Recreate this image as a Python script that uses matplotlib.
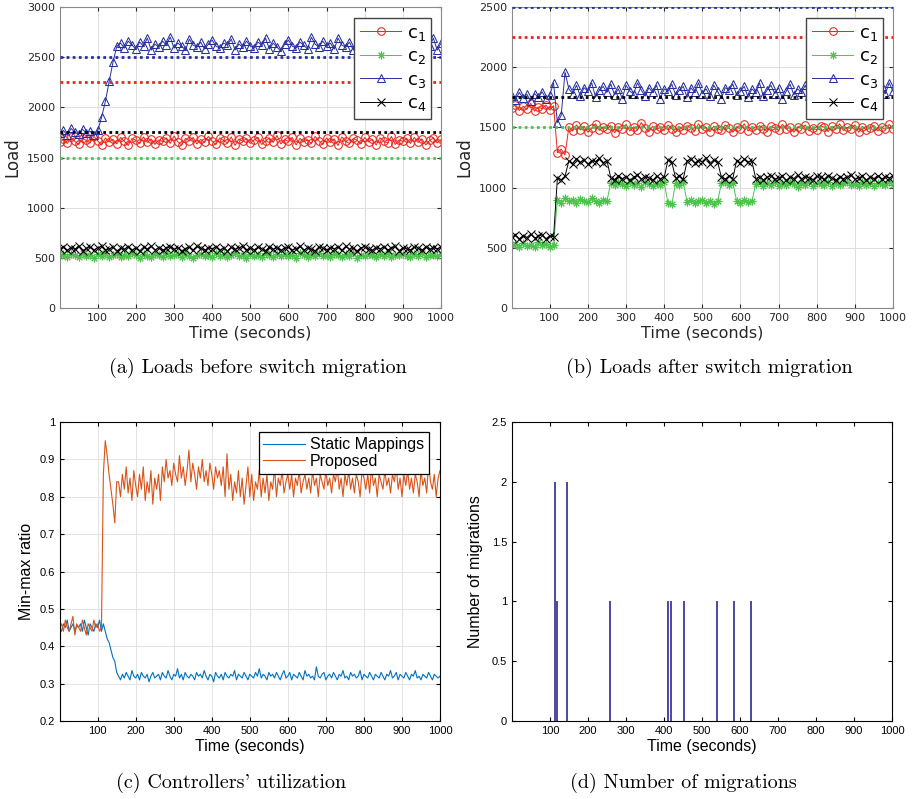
import numpy as np
import matplotlib
matplotlib.use('Agg')
import matplotlib.pyplot as plt

# time grid (seconds) for the load panels, one sample every 10 s
t = np.arange(0, 1001, 10)
# finer grid for the utilization panel, one sample every 5 s
t_c = np.arange(0, 1001, 5)

# capacity lines
capacity = {'c1': 2250, 'c2': 1500, 'c3': 2500, 'c4': 1750}

# (a) loads before switch migration
a_c1 = [1650, 1680, 1640, 1700, 1660, 1630, 1690, 1670, 1645, 1710,
        1665, 1625, 1695, 1655, 1680, 1635, 1700, 1660, 1620, 1690,
        1670, 1640, 1705, 1650, 1685, 1630, 1675, 1660, 1695, 1640,
        1715, 1655, 1625, 1690, 1665, 1700, 1635, 1680, 1650, 1710,
        1660, 1630, 1695, 1670, 1645, 1705, 1620, 1685, 1660, 1690,
        1640, 1675, 1700, 1630, 1665, 1695, 1650, 1720, 1635, 1680,
        1660, 1700, 1625, 1690, 1655, 1675, 1640, 1710, 1665, 1630,
        1695, 1650, 1685, 1620, 1705, 1660, 1640, 1690, 1670, 1635,
        1700, 1655, 1680, 1625, 1695, 1665, 1645, 1710, 1630, 1675,
        1660, 1690, 1640, 1700, 1650, 1685, 1625, 1670, 1695, 1645, 1680]
a_c2 = [520, 540, 510, 535, 525, 505, 545, 515, 530, 500,
        535, 520, 550, 510, 525, 540, 505, 530, 515, 545,
        525, 500, 535, 520, 510, 540, 530, 505, 550, 515,
        525, 535, 510, 545, 520, 500, 530, 540, 515, 525,
        505, 545, 520, 535, 510, 530, 550, 515, 525, 500,
        540, 520, 530, 510, 545, 525, 505, 535, 515, 540,
        520, 530, 500, 545, 525, 510, 535, 520, 550, 515,
        530, 505, 540, 525, 510, 535, 520, 545, 500, 530,
        515, 540, 525, 505, 535, 520, 550, 510, 530, 525,
        540, 515, 505, 535, 520, 545, 510, 530, 525, 515, 535]
a_c3 = [1740, 1770, 1720, 1790, 1750, 1730, 1780, 1745, 1760, 1725,
        1770, 1900, 2060, 2260, 2450, 2610, 2640, 2590, 2660, 2620,
        2580, 2650, 2610, 2690, 2570, 2630, 2600, 2660, 2620, 2700,
        2590, 2640, 2610, 2570, 2680, 2620, 2600, 2650, 2580, 2630,
        2670, 2610, 2590, 2640, 2620, 2680, 2570, 2630, 2600, 2660,
        2610, 2590, 2650, 2620, 2690, 2580, 2640, 2600, 2560, 2630,
        2670, 2610, 2590, 2650, 2620, 2580, 2700, 2630, 2600, 2660,
        2610, 2640, 2580, 2690, 2620, 2600, 2650, 2570, 2630, 2610,
        2660, 2590, 2640, 2620, 2680, 2600, 2570, 2650, 2610, 2630,
        2590, 2670, 2620, 2600, 2650, 2580, 2640, 2610, 2690, 2570, 2640]
a_c4 = [590, 610, 575, 600, 585, 620, 570, 595, 605, 580,
        600, 615, 575, 590, 605, 570, 595, 585, 610, 580,
        595, 570, 605, 590, 615, 580, 600, 575, 595, 610,
        585, 600, 570, 590, 605, 580, 615, 595, 575, 600,
        590, 610, 580, 595, 570, 605, 585, 600, 615, 575,
        595, 580, 605, 590, 570, 610, 585, 600, 575, 595,
        605, 580, 590, 615, 575, 600, 585, 570, 610, 595,
        580, 600, 590, 605, 575, 615, 585, 595, 570, 600,
        610, 585, 575, 600, 590, 605, 580, 595, 615, 570,
        600, 590, 580, 605, 595, 575, 610, 585, 600, 590, 605]

# (b) loads after switch migration
b_c1 = [1660, 1690, 1640, 1675, 1650, 1700, 1635, 1670, 1655, 1685, 1645, 1680,
        1290, 1320, 1270,
        1500, 1470, 1520, 1480, 1510, 1460, 1495, 1530, 1475, 1505,
        1485, 1515, 1455, 1500, 1490, 1525, 1470, 1505, 1480, 1540,
        1495, 1465, 1510, 1485, 1500, 1475, 1520, 1490, 1460, 1505,
        1480, 1515, 1495, 1470, 1530, 1485, 1500, 1465, 1510, 1490,
        1475, 1520, 1495, 1460, 1505, 1485, 1530, 1470, 1500, 1480,
        1515, 1490, 1465, 1510, 1495, 1475, 1525, 1485, 1500, 1460,
        1505, 1490, 1520, 1470, 1495, 1480, 1515, 1500, 1465, 1510,
        1485, 1530, 1475, 1500, 1490, 1520, 1460, 1505, 1480, 1495,
        1515, 1470, 1500, 1485, 1525, 1490]
b_c2 = [520, 535, 510, 540, 515, 525, 505, 545, 520, 530, 510, 525,
        900, 875, 910, 885, 895, 870, 905, 890, 880, 915, 885, 870, 900, 890,
        1040, 1020, 1050, 1030, 1010, 1045, 1025, 1035, 1005, 1050, 1030, 1015, 1040, 1025, 1045,
        870, 860,
        1040, 1025, 1050,
        880, 895, 870, 885, 900, 875, 890, 865, 885,
        1035, 1050, 1020, 1040,
        890, 875, 900, 880, 885,
        1030, 1045, 1015, 1040, 1025, 1050, 1010, 1035, 1020, 1045,
        1030, 1005, 1040, 1025, 1050, 1015, 1035, 1030, 1020, 1045,
        1010, 1040, 1025, 1035, 1050, 1020, 1030, 1015, 1045, 1025,
        1040, 1010, 1035, 1030, 1020, 1045, 1025]
b_c3 = [1760, 1730, 1790, 1745, 1775, 1720, 1780, 1750, 1795, 1740, 1770,
        1870, 1540, 1600, 1960,
        1820, 1780, 1850, 1760, 1830, 1800, 1870, 1750, 1810, 1840,
        1790, 1860, 1770, 1820, 1740, 1850, 1800, 1780, 1870, 1810,
        1760, 1830, 1790, 1850, 1740, 1820, 1800, 1860, 1770, 1810,
        1840, 1750, 1830, 1790, 1870, 1780, 1820, 1760, 1850, 1800,
        1740, 1830, 1810, 1860, 1770, 1800, 1840, 1750, 1820, 1790,
        1870, 1760, 1810, 1850, 1780, 1830, 1740, 1800, 1860, 1770,
        1820, 1790, 1850, 1760, 1840, 1800, 1870, 1750, 1810, 1830,
        1780, 1860, 1740, 1820, 1800, 1850, 1770, 1830, 1790, 1860,
        1750, 1810, 1840, 1780, 1870, 1800]
b_c4 = [590, 605, 575, 600, 585, 615, 580, 595, 610, 575, 600, 590,
        1080, 1065, 1095,
        1220, 1200, 1240, 1210, 1230, 1195, 1225, 1215, 1245, 1205, 1225,
        1080, 1065, 1100, 1075, 1090, 1060, 1085, 1105, 1070, 1090, 1080, 1060, 1095, 1075, 1085,
        1230, 1210,
        1080, 1095, 1070,
        1220, 1240, 1205, 1225, 1215, 1250, 1200, 1230, 1215,
        1085, 1070, 1095, 1075,
        1225, 1205, 1235, 1215, 1220,
        1075, 1090, 1065, 1085, 1100, 1070, 1080, 1095, 1060, 1085,
        1075, 1105, 1070, 1090, 1080, 1065, 1095, 1085, 1070, 1100,
        1080, 1060, 1090, 1075, 1085, 1105, 1070, 1080, 1095, 1065,
        1085, 1075, 1100, 1070, 1090, 1080, 1095]

# (c) controllers' utilization (min-max ratio), 5 s samples
c_static = [0.45, 0.44, 0.46, 0.45, 0.47, 0.44, 0.45, 0.46, 0.44, 0.455, 0.45, 0.46,
            0.44, 0.47, 0.45, 0.43, 0.46, 0.45, 0.44, 0.46, 0.45, 0.47, 0.44, 0.46,
            0.44, 0.42, 0.41, 0.39, 0.37, 0.36, 0.33,
            0.32, 0.31, 0.325, 0.315, 0.33, 0.32, 0.31, 0.335, 0.32, 0.315,
            0.325, 0.31, 0.33, 0.32, 0.315, 0.325, 0.305, 0.32, 0.33, 0.315,
            0.32, 0.325, 0.31, 0.33, 0.32, 0.315, 0.335, 0.32, 0.31, 0.325,
            0.32, 0.34, 0.315, 0.325, 0.31, 0.33, 0.32, 0.315, 0.325, 0.32,
            0.31, 0.33, 0.32, 0.325, 0.315, 0.335, 0.32, 0.31, 0.325, 0.32,
            0.305, 0.33, 0.32, 0.315, 0.325, 0.31, 0.33, 0.32, 0.315, 0.325,
            0.32, 0.335, 0.31, 0.325, 0.32, 0.315, 0.33, 0.32, 0.31, 0.325,
            0.32, 0.315, 0.33, 0.32, 0.34, 0.315, 0.325, 0.32, 0.31, 0.33,
            0.32, 0.325, 0.315, 0.33, 0.32, 0.31, 0.325, 0.335, 0.315, 0.32,
            0.33, 0.31, 0.325, 0.32, 0.315, 0.33, 0.32, 0.31, 0.335, 0.32,
            0.325, 0.315, 0.32, 0.31, 0.345, 0.32, 0.315, 0.325, 0.33, 0.31,
            0.32, 0.325, 0.315, 0.33, 0.32, 0.31, 0.325, 0.32, 0.335, 0.315,
            0.32, 0.31, 0.33, 0.32, 0.325, 0.315, 0.32, 0.335, 0.31, 0.325,
            0.32, 0.315, 0.33, 0.32, 0.31, 0.325, 0.32, 0.315, 0.33, 0.32,
            0.31, 0.325, 0.32, 0.335, 0.315, 0.32, 0.33, 0.31, 0.325, 0.32,
            0.315, 0.33, 0.32, 0.31, 0.325, 0.32, 0.335, 0.315, 0.32, 0.31,
            0.325, 0.32, 0.315, 0.33, 0.32, 0.31, 0.325, 0.32, 0.315, 0.32]
c_proposed = [0.45, 0.46, 0.44, 0.47, 0.45, 0.44, 0.46, 0.48, 0.43, 0.46, 0.45, 0.44,
              0.47, 0.45, 0.43, 0.46, 0.45, 0.44, 0.47, 0.45, 0.46, 0.44, 0.45,
              0.86, 0.95, 0.91, 0.86, 0.82, 0.78, 0.73, 0.84,
              0.84, 0.80, 0.86, 0.82, 0.88, 0.81, 0.85, 0.79, 0.87, 0.83, 0.80, 0.86,
              0.82, 0.88, 0.79, 0.84, 0.81, 0.87, 0.78, 0.85, 0.82, 0.86, 0.79,
              0.88, 0.84, 0.90, 0.85, 0.87, 0.83, 0.89, 0.86, 0.84, 0.91, 0.85, 0.88,
              0.83, 0.87, 0.925, 0.84, 0.89, 0.86, 0.82, 0.88, 0.85, 0.90, 0.84, 0.87,
              0.83, 0.89, 0.86, 0.82, 0.88, 0.85, 0.87,
              0.83, 0.88, 0.80, 0.915, 0.82, 0.86, 0.79, 0.84, 0.81, 0.87, 0.80, 0.85,
              0.78, 0.83, 0.88, 0.80, 0.86, 0.79, 0.84, 0.82, 0.87, 0.80, 0.85, 0.81,
              0.86, 0.79, 0.84, 0.82, 0.88, 0.80, 0.85, 0.83, 0.87, 0.81, 0.84, 0.86,
              0.82, 0.86, 0.80, 0.85, 0.83, 0.87, 0.81, 0.84, 0.86, 0.82,
              0.85, 0.81, 0.87, 0.83, 0.85, 0.80, 0.86, 0.84, 0.82, 0.87,
              0.83, 0.85, 0.81, 0.86, 0.84, 0.88, 0.82, 0.85, 0.80, 0.86,
              0.83, 0.87, 0.82, 0.85, 0.81, 0.86, 0.84, 0.80, 0.87, 0.85,
              0.82, 0.86, 0.81, 0.88, 0.83, 0.85, 0.80, 0.86, 0.84, 0.82,
              0.87, 0.83, 0.85, 0.81, 0.86, 0.84, 0.88, 0.82, 0.85, 0.80,
              0.86, 0.83, 0.87, 0.82, 0.85, 0.81, 0.86, 0.84, 0.80, 0.87,
              0.83, 0.85, 0.81, 0.89, 0.84, 0.82, 0.86, 0.80, 0.85, 0.87]

# (d) number of migrations
mig_time = [114, 118, 145, 258, 411, 419, 453, 540, 584, 630]
mig_count = [2, 1, 2, 1, 1, 1, 1, 1, 1, 1]

xticks = list(range(100, 1001, 100))
c_yticks = [0.2, 0.3, 0.4, 0.5, 0.6, 0.7, 0.8, 0.9, 1.0]
c_ylabels = ['0.2', '0.3', '0.4', '0.5', '0.6', '0.7', '0.8', '0.9', '1']
d_yticks = [0, 0.5, 1, 1.5, 2, 2.5]
d_ylabels = ['0', '0.5', '1', '1.5', '2', '2.5']

col = {'c1': '#e8251b', 'c2': '#4cc44c', 'c3': '#28309e', 'c4': 'black'}
mk = {'c1': 'o', 'c2': (8, 2, 0), 'c3': '^', 'c4': 'x'}

W, H = 915, 799
fig = plt.figure(figsize=(W / 100, H / 100), dpi=100)


def box(x0, y0, x1, y1):
    return [x0 / W, 1 - y1 / H, (x1 - x0) / W, (y1 - y0) / H]


def load_panel(ax, series, ymax):
    for name, vals in series.items():
        ax.plot(t, vals, color=col[name], marker=mk[name], mfc='none',
                ms=5.5, mew=0.75, lw=0.7, label='c$_%s$' % name[1])
    for name in ['c1', 'c2', 'c3', 'c4']:
        ax.axhline(capacity[name], color=col[name], ls=(0, (1, 1.2)), lw=2, zorder=5)
    ax.set_xlim(1, 1000)
    ax.set_ylim(0, ymax)
    ax.set_xticks(xticks)
    ax.set_yticks(np.arange(0, ymax + 1, 500))
    ax.grid(True, color='#dddddd', lw=0.7)
    ax.set_axisbelow(True)
    ax.tick_params(direction='in', length=3, top=True, right=True,
                   labelsize=8, colors='#262626')
    for s in ax.spines.values():
        s.set_color('#8a8a8a')
    ax.set_xlabel('Time (seconds)', fontsize=11.5, color='#262626', labelpad=2)
    ax.set_ylabel('Load', fontsize=12, color='#262626', labelpad=4)
    leg = ax.legend(loc='upper right', bbox_to_anchor=(0.975, 0.963), fontsize=13,
                    handlelength=2.3, handletextpad=0.3, labelspacing=0.25,
                    borderpad=0.3, fancybox=False, framealpha=1, borderaxespad=0)
    leg.get_frame().set_edgecolor('#444444')
    leg.get_frame().set_linewidth(1.0)
    leg.set_zorder(10)


plt.rcParams['font.family'] = 'DejaVu Sans'

ax_a = fig.add_axes(box(60, 7, 441, 308))
load_panel(ax_a, {'c1': a_c1, 'c2': a_c2, 'c3': a_c3, 'c4': a_c4}, 3000)

ax_b = fig.add_axes(box(512, 7, 893, 308))
load_panel(ax_b, {'c1': b_c1, 'c2': b_c2, 'c3': b_c3, 'c4': b_c4}, 2500)

# (c)
ax_c = fig.add_axes(box(60, 422, 440, 721))
ax_c.plot(t_c, c_static, color='#0072BD', lw=0.8, label='Static Mappings')
ax_c.plot(t_c, c_proposed, color='#D95319', lw=0.8, label='Proposed')
ax_c.set_xlim(1, 1000)
ax_c.set_ylim(0.2, 1)
ax_c.set_xticks(xticks)
ax_c.set_xticklabels([str(x) for x in xticks], family='Liberation Sans')
ax_c.set_yticks(c_yticks)
ax_c.set_yticklabels(c_ylabels, family='Liberation Sans')
ax_c.grid(True, color='#e3e3e3', lw=0.7)
ax_c.set_axisbelow(True)
ax_c.tick_params(direction='in', length=3, top=True, right=True, labelsize=8)
ax_c.set_xlabel('Time (seconds)', fontsize=11.5, family='Liberation Sans', labelpad=2)
ax_c.set_ylabel('Min-max ratio', fontsize=11.5, family='Liberation Sans', labelpad=4)
leg = ax_c.legend(loc='upper right', bbox_to_anchor=(0.97, 0.965),
                  prop={'family': 'Liberation Sans', 'size': 11.5},
                  handlelength=2.6, handletextpad=0.3, labelspacing=0.1,
                  borderpad=0.3, fancybox=False, framealpha=1, borderaxespad=0)
leg.get_frame().set_edgecolor('black')
leg.get_frame().set_linewidth(0.9)

# (d)
ax_d = fig.add_axes(box(512, 422, 892, 721))
ax_d.vlines(mig_time, 0, mig_count, color='#2e2a8f', lw=1.2)
ax_d.set_xlim(0, 1000)
ax_d.set_ylim(0, 2.5)
ax_d.set_xticks(xticks)
ax_d.set_xticklabels([str(x) for x in xticks], family='Liberation Sans')
ax_d.set_yticks(d_yticks)
ax_d.set_yticklabels(d_ylabels, family='Liberation Sans')
ax_d.tick_params(direction='in', length=3, top=True, right=True, labelsize=8)
ax_d.set_xlabel('Time (seconds)', fontsize=11.5, family='Liberation Sans', labelpad=2)
ax_d.set_ylabel('Number of migrations', fontsize=11.5, family='Liberation Sans', labelpad=6)

# captions
cap = dict(fontsize=14.5, family='cmr10', ha='center', va='center')
fig.text(258 / W, 1 - 368 / H, '(a) Loads before switch migration', **cap)
fig.text(709 / W, 1 - 368 / H, '(b) Loads after switch migration', **cap)
fig.text(231 / W, 1 - 783 / H, "(c) Controllers' utilization", **cap)
fig.text(683 / W, 1 - 783 / H, '(d) Number of migrations', **cap)

fig.savefig('out.png', dpi=100)
